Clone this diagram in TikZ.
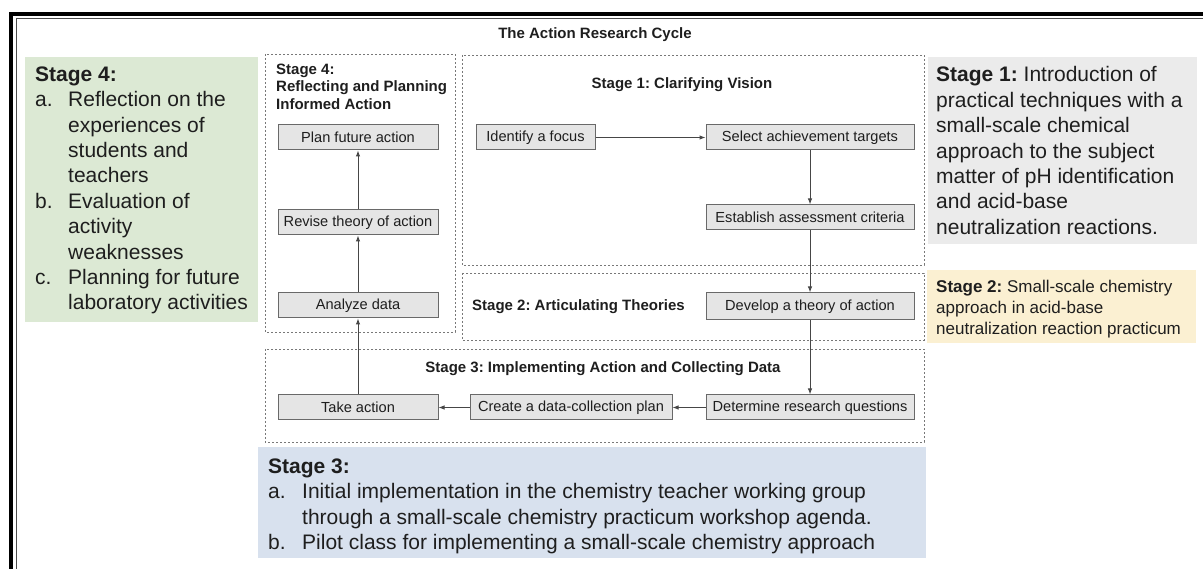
\documentclass[tikz,border=0pt]{standalone}
\usepackage{fontspec}
\setmainfont{Liberation Sans}
\usetikzlibrary{arrows.meta}
\definecolor{greenbg}{RGB}{220,233,212}
\definecolor{graybg}{RGB}{235,235,235}
\definecolor{yellowbg}{RGB}{251,240,210}
\definecolor{bluebg}{RGB}{216,225,238}
\definecolor{boxfill}{RGB}{229,229,229}
\definecolor{boxline}{RGB}{105,105,105}
\definecolor{arrowc}{RGB}{70,70,70}
\definecolor{dashc}{RGB}{120,120,120}
\definecolor{txt}{RGB}{30,30,30}
\newcommand{\lbl}[1]{\makebox[33pt][l]{#1}}
\newcommand{\ind}{\hspace*{33pt}}
\frenchspacing
\tikzset{
  stepbox/.style={draw=boxline, fill=boxfill, line width=1pt, minimum width=160pt, minimum height=25pt, inner sep=0pt, font=\fontsize{14.6}{16}\selectfont, text=txt},
  stagebox/.style={draw=dashc, dash pattern=on 2pt off 2pt, line width=0.9pt},
  flow/.style={draw=arrowc, line width=1pt, -{Latex[length=6pt,width=4.5pt]}},
  bigtxt/.style={anchor=north west, inner sep=0pt, align=left, text=txt, font=\fontsize{21}{25.4}\selectfont},
  smalltitle/.style={inner sep=0pt, text=txt, font=\bfseries\fontsize{15}{17.5}\selectfont}
}
\begin{document}
\begin{tikzpicture}[x=1pt,y=-1pt]
\useasboundingbox (0,0) rectangle (1203,569);
% outer frame
\draw[line width=4pt, black] (11,580) -- (11,14.5) -- (1215,14.5);
\draw[line width=1pt, black!70] (16,580) -- (16,19) -- (1215,19);
% title
\node[smalltitle] (title) at (595,35) {The Action Research Cycle};
% coloured side boxes
\fill[greenbg] (25,57) rectangle (258,322);
\fill[graybg] (928,57) rectangle (1197,244);
\fill[yellowbg] (927,270) rectangle (1196,343);
\fill[bluebg] (258,447) rectangle (926,558);
% stage frames
\draw[stagebox] (265,54) rectangle (455,332);
\draw[stagebox] (462,55) rectangle (924,265);
\draw[stagebox] (462,273) rectangle (924,340);
\draw[stagebox] (265,349) rectangle (924,442);
% stage titles
\node[smalltitle, anchor=north west, align=left] (s4title) at (276,63.5) {Stage 4:\\Reflecting and Planning\\Informed Action};
\node[smalltitle] (s1title) at (682,85) {Stage 1: Clarifying Vision};
\node[smalltitle, anchor=west] (s2title) at (472,307) {Stage 2: Articulating Theories};
\node[smalltitle] (s3title) at (603,369) {Stage 3: Implementing Action and Collecting Data};
% step boxes
\node[stepbox] (plan) at (358,137.5) {Plan future action};
\node[stepbox] (revise) at (358,222.5) {Revise theory of action};
\node[stepbox] (analyze) at (358,305.5) {Analyze data};
\node[stepbox, minimum width=119pt] (focus) at (535.5,137.5) {Identify a focus};
\node[stepbox, minimum width=208pt] (select) at (810,137.5) {Select achievement targets};
\node[stepbox, minimum width=208pt] (establish) at (810,217.5) {Establish assessment criteria};
\node[stepbox, minimum width=208pt, minimum height=27pt] (develop) at (810,306.5) {Develop a theory of action};
\node[stepbox, minimum width=208pt] (determine) at (810,407.5) {Determine research questions};
\node[stepbox, minimum width=202pt] (create) at (571,407.5) {Create a data-collection plan};
\node[stepbox] (take) at (358,407.5) {Take action};
% arrows
\draw[flow] (focus) -- (select);
\draw[flow] (select) -- (establish);
\draw[flow] (establish) -- (develop);
\draw[flow] (develop) -- (determine);
\draw[flow] (determine) -- (create);
\draw[flow] (create) -- (take);
\draw[flow] (take) -- (analyze);
\draw[flow] (analyze) -- (revise);
\draw[flow] (revise) -- (plan);
% side texts
\node[bigtxt] (green) at (35,66.5) {\textbf{Stage 4:}\\
\lbl{a.}Reflection on the\\
\ind experiences of\\
\ind students and\\
\ind teachers\\
\lbl{b.}Evaluation of\\
\ind activity\\
\ind weaknesses\\
\lbl{c.}Planning for future\\
\ind laboratory activities};
\node[bigtxt] (gray) at (936,66.5) {\textbf{Stage 1:} Introduction of\\
practical techniques with a\\
small-scale chemical\\
approach to the subject\\
matter of pH identification\\
and acid-base\\
neutralization reactions.};
\node[bigtxt, font=\fontsize{17}{21}\selectfont] (yellow) at (936,279.5) {\textbf{Stage 2:} Small-scale chemistry\\
approach in acid-base\\
neutralization reaction practicum};
\node[bigtxt] (blue) at (268,458.5) {\textbf{Stage 3:}\\
\makebox[34pt][l]{a.}Initial implementation in the chemistry teacher working group\\
\hspace*{34pt}through a small-scale chemistry practicum workshop agenda.\\
\makebox[34pt][l]{b.}Pilot class for implementing a small-scale chemistry approach};
\end{tikzpicture}
\end{document}
